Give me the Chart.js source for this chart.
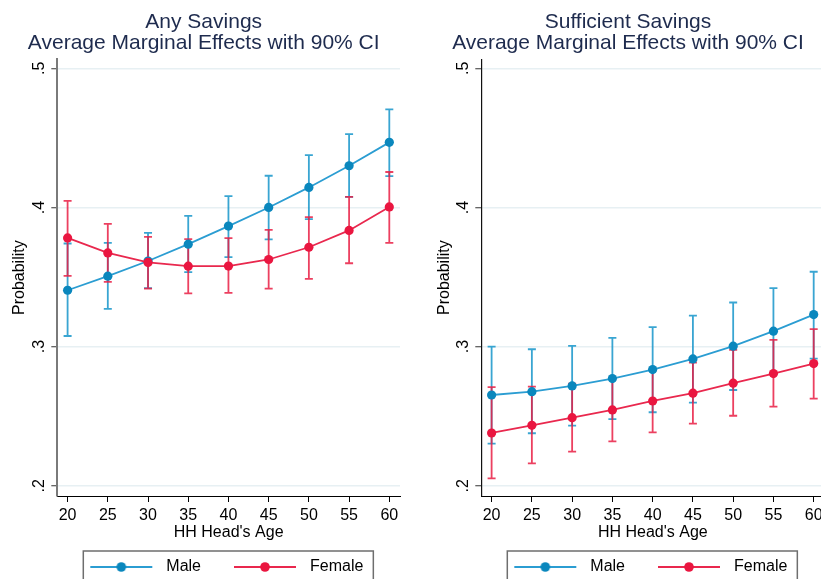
<!DOCTYPE html>
<html>
<head>
<meta charset="utf-8">
<script src="https://cdn.jsdelivr.net/npm/chart.js@4/dist/chart.umd.min.js"></script>
<style>
  html, body { margin: 0; padding: 0; background: #ffffff; }
  body { width: 821px; height: 579px; overflow: hidden; position: relative; }
  .panel { position: absolute; top: 0; }
</style>
</head>
<body>
<div class="panel" style="left:0px"><canvas id="anySavings" width="410" height="585"></canvas></div>
<div class="panel" style="left:410px"><canvas id="sufficientSavings" width="436" height="585"></canvas></div>
<script>
// Household head's age at which the margins are evaluated
const AGES = [20, 25, 30, 35, 40, 45, 50, 55, 60];
const X_TICK_LABELS = ['20', '25', '30', '35', '40', '45', '50', '55', '60'];
const Y_TICKS = [0.2, 0.3, 0.4, 0.5];
const Y_TICK_LABELS = ['.2', '.3', '.4', '.5'];
const SERIES_NAMES = ['Male', 'Female'];

// Any savings: predicted probability and 90% CI bounds
const ANY_MALE      = [0.3405, 0.3506, 0.3615, 0.3736, 0.3866, 0.4000, 0.4144, 0.4300, 0.4468];
const ANY_MALE_LO   = [0.3076, 0.3271, 0.3420, 0.3535, 0.3643, 0.3770, 0.3916, 0.4076, 0.4225];
const ANY_MALE_HI   = [0.3741, 0.3746, 0.3817, 0.3940, 0.4082, 0.4228, 0.4376, 0.4527, 0.4705];
const ANY_FEMALE    = [0.3781, 0.3673, 0.3605, 0.3578, 0.3579, 0.3626, 0.3714, 0.3835, 0.4004];
const ANY_FEMALE_LO = [0.3508, 0.3465, 0.3417, 0.3383, 0.3386, 0.3417, 0.3487, 0.3599, 0.3745];
const ANY_FEMALE_HI = [0.4047, 0.3882, 0.3789, 0.3773, 0.3779, 0.3839, 0.3930, 0.4076, 0.4255];

// Sufficient savings: predicted probability and 90% CI bounds
const SUF_MALE      = [0.2652, 0.2676, 0.2717, 0.2770, 0.2835, 0.2911, 0.3003, 0.3111, 0.3230];
const SUF_MALE_LO   = [0.2302, 0.2377, 0.2432, 0.2478, 0.2528, 0.2597, 0.2688, 0.2802, 0.2914];
const SUF_MALE_HI   = [0.3000, 0.2981, 0.3005, 0.3063, 0.3140, 0.3223, 0.3317, 0.3420, 0.3538];
const SUF_FEMALE    = [0.2379, 0.2434, 0.2489, 0.2545, 0.2609, 0.2665, 0.2737, 0.2806, 0.2878];
const SUF_FEMALE_LO = [0.2053, 0.2161, 0.2245, 0.2319, 0.2384, 0.2446, 0.2503, 0.2568, 0.2626];
const SUF_FEMALE_HI = [0.2708, 0.2712, 0.2733, 0.2772, 0.2835, 0.2885, 0.2976, 0.3048, 0.3125];

const FONT = "'Liberation Sans', Arial, Helvetica, sans-serif";
Chart.defaults.font.family = FONT;
Chart.defaults.color = '#000000';

const MALE_STYLE   = { line: '#2b9dd2', dot: '#0a87bd', ci: 'rgba(30,152,204,0.88)' };
const FEMALE_STYLE = { line: '#e9284e', dot: '#ea1640', ci: 'rgba(233,30,68,0.85)' };

const KEY_W = 84, KEY_PAD_LEFT = 16, KEY_LINE = 62;

// Legend key: a short line with a marker in the middle
function legendKey(style) {
  const c = document.createElement('canvas');
  c.width = KEY_W; c.height = 12;
  const g = c.getContext('2d');
  g.strokeStyle = style.line; g.lineWidth = 2;
  g.beginPath(); g.moveTo(KEY_PAD_LEFT, 6); g.lineTo(KEY_PAD_LEFT + KEY_LINE, 6); g.stroke();
  g.fillStyle = style.dot;
  g.beginPath(); g.arc(KEY_PAD_LEFT + KEY_LINE / 2, 6, 4.8, 0, Math.PI * 2); g.fill();
  return c;
}

// Capped confidence-interval spikes, drawn beneath the lines and markers
const ciBars = {
  id: 'ciBars',
  beforeDatasetsDraw(chart) {
    const { ctx, scales: { x, y } } = chart;
    chart.data.datasets.forEach((ds, di) => {
      if (!chart.isDatasetVisible(di)) return;
      ctx.save();
      ctx.strokeStyle = ds.ciColor;
      ctx.lineWidth = 1.8;
      ds.data.forEach((pt, i) => {
        const px = x.getPixelForValue(pt.x);
        const top = y.getPixelForValue(ds.ciHigh[i]);
        const bot = y.getPixelForValue(ds.ciLow[i]);
        ctx.beginPath();
        ctx.moveTo(px, top); ctx.lineTo(px, bot);
        ctx.moveTo(px - 4, top); ctx.lineTo(px + 4, top);
        ctx.moveTo(px - 4, bot); ctx.lineTo(px + 4, bot);
        ctx.stroke();
      });
      ctx.restore();
    });
  }
};

// Frame around the legend row
const legendFrame = {
  id: 'legendFrame',
  afterDraw(chart) {
    const hb = chart.legend && chart.legend.legendHitBoxes;
    if (!hb || !hb.length) return;
    const first = hb[0], last = hb[hb.length - 1];
    const mid = first.top + first.height / 2;
    const left = first.left + KEY_PAD_LEFT - 7;
    const right = last.left + last.width + 10;
    const ctx = chart.ctx;
    ctx.save();
    ctx.strokeStyle = '#6e6e6e';
    ctx.lineWidth = 1.5;
    ctx.strokeRect(left, mid - 16, right - left, 40);
    ctx.restore();
  }
};

function series(label, values, lo, hi, style, order) {
  return {
    label,
    data: AGES.map((a, i) => ({ x: a, y: values[i] })),
    ciLow: lo,
    ciHigh: hi,
    ciColor: style.ci,
    keyImage: legendKey(style),
    borderColor: style.line,
    borderWidth: 1.8,
    pointRadius: 4.6,
    pointHoverRadius: 4.6,
    pointBorderWidth: 0,
    pointBackgroundColor: style.dot,
    tension: 0,
    fill: false,
    order
  };
}

function makePanel(id, p) {
  return new Chart(document.getElementById(id), {
    type: 'line',
    data: {
      datasets: [
        series(SERIES_NAMES[0], p.male, p.maleLo, p.maleHi, MALE_STYLE, 1),
        series(SERIES_NAMES[1], p.female, p.femaleLo, p.femaleHi, FEMALE_STYLE, 0)
      ]
    },
    options: {
      responsive: false,
      animation: false,
      devicePixelRatio: 1,
      layout: { padding: { left: p.leftPad, right: p.rightPad, top: 0, bottom: 0 } },
      plugins: {
        tooltip: { enabled: false },
        title: {
          display: true,
          text: p.title,
          color: '#1e2b4e',
          font: { size: 21, weight: 'normal', lineHeight: 1.0 },
          padding: { top: 11.7, bottom: 5.6 }
        },
        legend: {
          position: 'bottom',
          align: 'start',
          fullSize: false,
          labels: {
            usePointStyle: true,
            pointStyleWidth: KEY_W,
            padding: 17,
            color: '#000000',
            font: { size: 16 },
            generateLabels(chart) {
              return chart.data.datasets.map((ds, i) => ({
                text: ds.label,
                pointStyle: ds.keyImage,
                fillStyle: ds.pointBackgroundColor,
                strokeStyle: ds.borderColor,
                lineWidth: 0,
                hidden: false,
                datasetIndex: i,
                fontColor: '#000000'
              }));
            }
          }
        }
      },
      scales: {
        x: {
          type: 'linear',
          position: 'bottom',
          min: 18.72,
          max: 61.33,
          afterBuildTicks(scale) { scale.ticks = AGES.map(v => ({ value: v })); },
          afterFit(scale) { scale.height = 46; },
          ticks: {
            autoSkip: false,
            maxRotation: 0,
            padding: 4.4,
            color: '#000000',
            font: { size: 16 },
            callback: (v, i) => X_TICK_LABELS[i]
          },
          grid: { drawOnChartArea: false, tickLength: 6, tickColor: '#000000', tickWidth: 1 },
          border: { display: true, color: '#000000', width: 1 },
          title: {
            display: true,
            text: "HH Head's Age",
            color: '#000000',
            font: { size: 16 },
            padding: { top: 0, bottom: 0 }
          }
        },
        y: {
          type: 'linear',
          position: 'left',
          min: 0.1926,
          max: 0.5065,
          afterBuildTicks(scale) { scale.ticks = Y_TICKS.map(v => ({ value: v })); },
          afterFit(scale) { scale.width = p.yAxisWidth; },
          ticks: {
            autoSkip: false,
            minRotation: 90,
            maxRotation: 90,
            crossAlign: 'center',
            padding: 5,
            color: '#000000',
            font: { size: 16 },
            callback: (v, i) => Y_TICK_LABELS[i]
          },
          grid: { drawOnChartArea: true, color: '#e7f0f3', lineWidth: 1.5, tickLength: 6, tickColor: '#333333', tickWidth: 1 },
          border: { display: true, color: p.yBorderColor, width: p.yBorderWidth },
          title: {
            display: true,
            text: 'Probability',
            color: '#000000',
            font: { size: 16 },
            padding: { top: p.yTitlePad, bottom: 0 }
          }
        }
      }
    },
    plugins: [ciBars, legendFrame]
  });
}

makePanel('anySavings', {
  title: ['Any Savings', 'Average Marginal Effects with 90% CI'],
  male: ANY_MALE, maleLo: ANY_MALE_LO, maleHi: ANY_MALE_HI,
  female: ANY_FEMALE, femaleLo: ANY_FEMALE_LO, femaleHi: ANY_FEMALE_HI,
  leftPad: 7.4, yAxisWidth: 49.9, yTitlePad: 3.0, rightPad: 10,
  yBorderColor: '#7a7a7a', yBorderWidth: 2
});

makePanel('sufficientSavings', {
  title: ['Sufficient Savings', 'Average Marginal Effects with 90% CI'],
  male: SUF_MALE, maleLo: SUF_MALE_LO, maleHi: SUF_MALE_HI,
  female: SUF_FEMALE, femaleLo: SUF_FEMALE_LO, femaleHi: SUF_FEMALE_HI,
  leftPad: 21.6, yAxisWidth: 49.7, yTitlePad: 3.8, rightPad: 21.6,
  yBorderColor: '#111111', yBorderWidth: 1.2
});
</script>
</body>
</html>
